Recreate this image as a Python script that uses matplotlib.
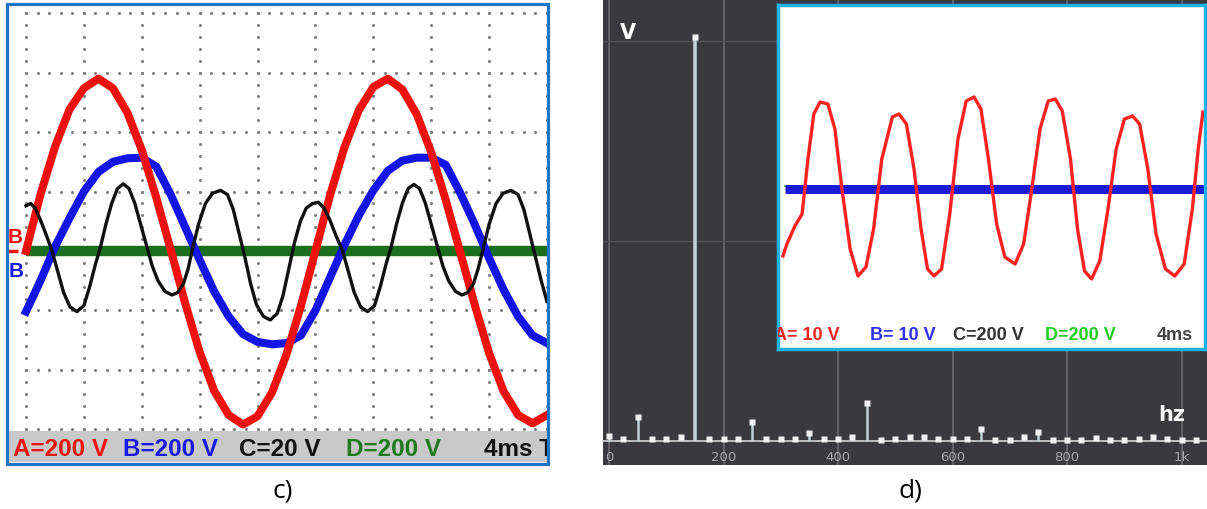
import numpy as np
import matplotlib
matplotlib.use('Agg')
import matplotlib.pyplot as plt
from matplotlib.patches import Rectangle

W, H = 1207, 510

# ---- panel c): scope traces, time in ms (4 ms/div), level in divisions ----
t_ms = [0, 1, 2, 3, 4, 5, 6, 7, 8, 9, 10, 11, 12, 13, 14, 15, 16, 17, 18,
        19, 20, 21, 22, 23, 24, 25, 26, 27, 28, 29, 30, 31, 32, 33, 34, 35, 36]
trace_a = [0.0, 0.95, 1.75, 2.38, 2.74, 2.9, 2.74, 2.33, 1.7, 0.9, 0.02, -0.88,
           -1.7, -2.35, -2.76, -2.92, -2.78, -2.38, -1.74, -0.92, 0.0, 0.93, 1.74,
           2.37, 2.76, 2.9, 2.72, 2.3, 1.66, 0.86, -0.02, -0.9, -1.72, -2.36, -2.76,
           -2.9, -2.76]
trace_b = [-1.02, -0.5, 0.07, 0.55, 1.0, 1.33, 1.5, 1.56, 1.57, 1.42, 0.95, 0.4,
           -0.15, -0.68, -1.1, -1.4, -1.53, -1.57, -1.55, -1.42, -1.0, -0.45, 0.1,
           0.6, 1.02, 1.35, 1.52, 1.57, 1.57, 1.45, 0.98, 0.45, -0.12, -0.65, -1.1,
           -1.42, -1.55]
trace_c_t = [0, 0.32, 0.64, 1.0, 1.4, 1.8, 2.2, 2.6, 3.04, 3.52,
             4.0, 4.4, 4.8, 5.16, 5.52, 5.92, 6.32, 6.72, 7.12, 7.52,
             7.92, 8.32, 8.72, 9.12, 9.6, 10.08, 10.48, 10.88, 11.2, 11.52,
             11.92, 12.4, 12.88, 13.44, 13.92, 14.32, 14.72, 15.12, 15.52, 15.92,
             16.4, 16.88, 17.36, 17.76, 18.16, 18.56, 18.96, 19.36, 19.8, 20.2,
             20.6, 21.0, 21.4, 21.88, 22.28, 22.68, 23.12, 23.6, 24.08, 24.48,
             24.88, 25.24, 25.6, 26.0, 26.4, 26.8, 27.2, 27.6, 28.0, 28.4,
             28.8, 29.2, 29.68, 30.12, 30.52, 30.92, 31.24, 31.6, 32.0, 32.48,
             32.96, 33.52, 34.0, 34.4, 34.8, 35.2, 35.6, 36.0]
trace_c = [0.76, 0.8, 0.72, 0.52, 0.27, 0.0, -0.35, -0.7, -0.94, -1.02,
           -0.92, -0.6, -0.22, 0.08, 0.45, 0.8, 1.05, 1.13, 1.05, 0.8,
           0.45, 0.1, -0.25, -0.5, -0.68, -0.74, -0.7, -0.55, -0.3, 0.05,
           0.45, 0.8, 0.97, 1.02, 0.95, 0.7, 0.3, -0.1, -0.55, -0.9,
           -1.1, -1.16, -1.05, -0.75, -0.3, 0.15, 0.5, 0.72, 0.8, 0.82,
           0.72, 0.52, 0.27, 0.0, -0.35, -0.7, -0.94, -1.02, -0.92, -0.6,
           -0.22, 0.08, 0.45, 0.8, 1.05, 1.12, 1.05, 0.8, 0.45, 0.1,
           -0.25, -0.5, -0.68, -0.74, -0.7, -0.55, -0.3, 0.05, 0.45, 0.8,
           0.97, 1.02, 0.95, 0.7, 0.3, -0.1, -0.5, -0.85]
trace_d_t = [0, 36]
trace_d = [0.0, 0.0]
labels_c = ['A=200 V', 'B=200 V', 'C=20 V', 'D=200 V', '4ms T']
colors_c = ['#ee1111', '#1a1ae6', '#111111', '#1e7a1e', '#111111']

# ---- panel d): spectrum (Hz, divisions) and inset trace (ms, V) ----
freqs = [0, 25, 50, 75, 100, 125, 150, 175, 200, 225, 250, 275, 300, 325, 350,
         375, 400, 425, 450, 475, 500, 525, 550, 575, 600, 625, 650, 675, 700,
         725, 750, 775, 800, 825, 850, 875, 900, 925, 950, 975, 1000, 1025, 1050]
amps = [0.025, 0.01, 0.12, 0.01, 0.01, 0.02, 2.02, 0.01, 0.01, 0.01, 0.095, 0.01,
        0.01, 0.01, 0.04, 0.01, 0.01, 0.02, 0.19, 0.005, 0.01, 0.02, 0.02, 0.01,
        0.01, 0.01, 0.06, 0.005, 0.005, 0.02, 0.045, 0.005, 0.005, 0.005, 0.015,
        0.005, 0.005, 0.01, 0.02, 0.01, 0.005, 0.005, 0.03]
freq_ticks = [0, 200, 400, 600, 800, 1000]
freq_labels = ['0', '200', '400', '600', '800', '1k']

ins_t = [0.17, 0.5, 1.19, 1.8, 2.3, 2.8, 3.33, 4.0, 4.6, 5.2, 5.9, 6.57, 7.25,
         7.9, 8.6, 9.5, 10.07, 10.7, 11.35, 11.95, 12.5, 13.05, 13.7, 14.4, 15.1,
         15.8, 16.47, 17.06, 17.7, 18.4, 19.1, 19.97, 20.7, 21.4, 22.1, 22.8, 23.4,
         24.0, 24.7, 25.3, 25.9, 26.5, 27.2, 27.9, 28.6, 29.3, 30.0, 30.6, 31.3,
         32.0, 32.8, 33.6, 34.4, 35.1, 35.6, 36.0]
ins_a = [-16.75, -13.75, -9.25, -6.25, 7.5, 18.75, 21.75, 21.25, 15.0, 0.0, -15.0,
         -21.75, -19.5, -10.0, 7.5, 18.0, 18.75, 16.25, 5.0, -10.0, -20.0, -21.75,
         -20.0, -6.25, 12.5, 22.0, 23.0, 20.0, 7.5, -8.75, -17.0, -18.75, -13.75,
         0.0, 15.0, 22.0, 22.5, 19.5, 7.5, -10.0, -20.5, -22.5, -18.0, -5.0, 10.0,
         17.5, 18.25, 16.25, 5.0, -11.25, -20.0, -21.75, -18.75, -5.0, 10.0, 19.25]
ins_flat_t = [0.34, 36.2]
ins_flat = [0.0, 0.0]
labels_d = ['A= 10 V', 'B= 10 V', 'C=200 V', 'D=200 V', '4ms']
colors_d = ['#ee2222', '#3030ee', '#333333', '#22cc22', '#444444']

narrow = ['Liberation Sans', 'DejaVu Sans']

fig = plt.figure(figsize=(W / 100, H / 100), dpi=100)
fig.patch.set_facecolor('white')


def px_axes(x0, y0, x1, y1):
    return fig.add_axes([x0 / W, 1 - y1 / H, (x1 - x0) / W, (y1 - y0) / H])


# ================= panel c =================
ax = px_axes(7, 5, 547, 432)
ax.set_xlim(-19 / 14.47, 36)
ax.set_ylim((252 - 432) / 59.43, (252 - 5) / 59.43)
ax.axis('off')

dot_x = np.arange(0, 36.01, 0.8)
dot_y = np.arange(-3, 4.01, 0.2)
for r in range(-3, 5):
    ax.plot(dot_x, [r] * len(dot_x), ls='none', marker='o', ms=2.2,
            color='#7e7e7e', mec='none')
for c in range(0, 37, 4):
    ax.plot([c] * len(dot_y), dot_y, ls='none', marker='o', ms=2.2,
            color='#7e7e7e', mec='none')

ax.plot(trace_d_t, trace_d, color='#1b6e1b', lw=7.5, solid_capstyle='butt')
ax.plot(t_ms, trace_b, color='#1414e6', lw=5.8, solid_joinstyle='round')
ax.plot(t_ms, trace_a, color='#f01010', lw=5.8, solid_joinstyle='round')
ax.plot(trace_c_t, trace_c, color='#101010', lw=2.4, solid_joinstyle='round')

# channel markers on the left edge
ax.text(-0.76, 0.24, 'B', color='#ee1111', fontsize=15, fontweight='bold',
        ha='center', va='center', family=narrow)
ax.hlines(0.0, -1.24, -0.55, color='#ee1111', lw=2.5)
ax.text(-0.69, -0.32, 'B', color='#1a1ae6', fontsize=15, fontweight='bold',
        ha='center', va='center', family=narrow)

# status bar
sb = px_axes(7, 432, 547, 463)
sb.set_facecolor('#c9c9c9')
sb.set_xlim(7, 547)
sb.set_ylim(0, 1)
sb.set_xticks([])
sb.set_yticks([])
for s in sb.spines.values():
    s.set_visible(False)
for x0, lab, col in zip([13, 123, 239, 346, 484], labels_c, colors_c):
    sb.text(x0, 0.45, lab, color=col, fontsize=17.5, fontweight='bold',
            ha='left', va='center', family=narrow, clip_on=True)

fig.add_artist(Rectangle((7 / W, 1 - 465 / H), 541 / W, 460 / H,
                         transform=fig.transFigure, fill=False,
                         ec='#1f74c8', lw=2.3))

# ================= panel d =================
sp = px_axes(603, 0, 1207, 466)
sp.set_facecolor('#3a3a3e')
sp.set_xlim((603 - 609) / 0.5725, (1207 - 609) / 0.5725)
sp.set_ylim((442 - 466) / 200, 442 / 200)
for s in sp.spines.values():
    s.set_visible(False)
sp.set_xticks(freq_ticks, freq_labels)
sp.set_yticks([1, 2], ['', ''])
sp.grid(axis='x', color='#67666b', lw=1.3)
sp.grid(axis='y', color='#535257', lw=1.0)
sp.tick_params(length=0, axis='x', pad=-11, labelsize=9.5, labelcolor='#a8a8a8')
sp.tick_params(length=0, axis='y')
sp.axhline(0, color='#d6d6d6', lw=1.2)
sp.vlines(freqs, 0, amps, color='#c2d0d8',
          linewidths=[2.6 if a > 1 else 1.8 for a in amps])
sp.plot(freqs, amps, ls='none', marker='s', ms=4.2, color='#f2f2f2', mec='none')
sp.text(33, 2.045, 'V', color='white', fontsize=15, fontweight='bold',
        ha='center', va='center')
sp.text(983, 0.135, 'hz', color='white', fontsize=15, fontweight='bold',
        ha='center', va='center')

# inset scope screen
ins = px_axes(778, 6, 1205, 350)
ins.set_facecolor('white')
ins.set_xlim((778 - 781) / 11.72, (1205 - 781) / 11.72)
ins.set_ylim((190 - 350) / 4, (190 - 6) / 4)
ins.set_xticks([])
ins.set_yticks([])
for s in ins.spines.values():
    s.set_color('#1cb4e8')
    s.set_linewidth(2.5)
ins.plot(ins_flat_t, [v + 0.7 for v in ins_flat], color='#20c020', lw=1.2)
ins.plot(ins_flat_t, ins_flat, color='#1a1ad8', lw=6.5, solid_capstyle='butt')
ins.plot(ins_t, ins_a, color='#ff2020', lw=2.4, solid_joinstyle='round')
for x0, lab, col in zip([-0.6, 7.6, 14.7, 22.5, 32.1], labels_d, colors_d):
    ins.text(x0, -36.3, lab, color=col, fontsize=13, fontweight='bold',
             ha='left', va='center', family=narrow, clip_on=True)

# panel captions
fig.text(283 / W, 1 - 491 / H, 'c)', ha='center', va='center', fontsize=19,
         family='Open Sans')
fig.text(910 / W, 1 - 491 / H, 'd)', ha='center', va='center', fontsize=19,
         family='Open Sans')

fig.savefig('out.png', dpi=100, facecolor='white')
